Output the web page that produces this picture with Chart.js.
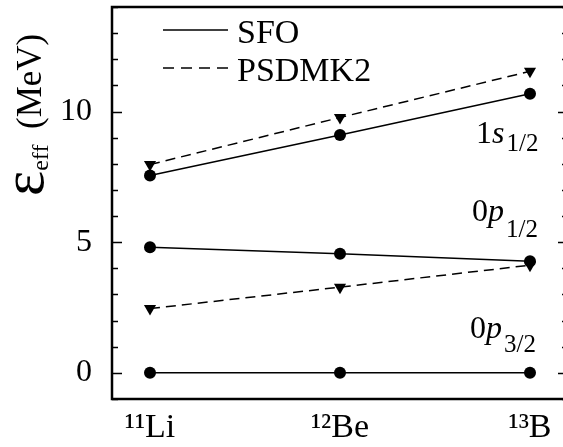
<!DOCTYPE html>
<html>
<head>
<meta charset="utf-8">
<script src="https://cdn.jsdelivr.net/npm/chart.js@4/dist/chart.umd.min.js"></script>
<style>
  html, body { margin: 0; padding: 0; background: #fff; overflow: hidden; }
  #wrap { width: 563px; height: 447px; overflow: hidden; }
  canvas { display: block; }
</style>
</head>
<body>
<div id="wrap"><canvas id="chart" width="575" height="447"></canvas></div>
<script>
// --- data ---
const nuclei = ['¹¹Li', '¹²Be', '¹³B'];
const sfo1s = [7.55, 9.10, 10.68];
const sfo0p12 = [4.81, 4.56, 4.27];
const sfo0p32 = [0, 0, 0];
const psd1s = [7.97, 9.77, 11.54];
const psd0p12 = [2.46, 3.28, 4.12];
const yTicks = [0, 5, 10];
const levelLabels = [['1', 's', '1/2'], ['0', 'p', '1/2'], ['0', 'p', '3/2']];

const FONT = '"Liberation Serif", "Times New Roman", Times, serif';
const pts = arr => arr.map((v, i) => ({ x: i, y: v }));

function sfoSet(vals) {
    return {
        label: 'SFO', data: pts(vals),
        borderColor: '#000', backgroundColor: '#000', borderWidth: 1.5,
        pointStyle: 'circle', pointRadius: 6, pointBorderWidth: 0, pointHoverRadius: 6
    };
}
function psdSet(vals) {
    return {
        label: 'PSDMK2', data: pts(vals),
        borderColor: '#000', backgroundColor: '#000', borderWidth: 1.5, borderDash: [10, 6],
        pointStyle: 'triangle', pointRotation: 180, pointRadius: 7, pointBorderWidth: 0, pointHoverRadius: 7
    };
}

// frame with inward ticks on left and right
const framePlugin = {
    id: 'frame',
    afterDraw(chart) {
        const { ctx, chartArea: a, scales: { y } } = chart;
        ctx.save();
        ctx.strokeStyle = '#000';
        ctx.lineWidth = 1.5;
        for (let v = Math.ceil(y.min); v <= y.max; v++) {
            const py = Math.round(y.getPixelForValue(v)) + 0.5;
            const len = v % 5 === 0 ? 10 : 6;
            ctx.beginPath();
            ctx.moveTo(a.left, py); ctx.lineTo(a.left + len, py);
            ctx.moveTo(a.right, py); ctx.lineTo(a.right - len, py);
            ctx.stroke();
        }
        ctx.lineWidth = 2.5;
        ctx.strokeRect(a.left, a.top, a.right - a.left, a.bottom - a.top);
        ctx.restore();
    }
};

// legend drawn inside the plot
const legendPlugin = {
    id: 'innerLegend',
    afterDraw(chart) {
        const { ctx } = chart;
        const seen = [];
        chart.data.datasets.forEach(d => { if (!seen.find(s => s.label === d.label)) seen.push(d); });
        ctx.save();
        ctx.font = '34px ' + FONT;
        ctx.fillStyle = '#000';
        ctx.strokeStyle = '#000';
        ctx.lineWidth = 1.5;
        seen.forEach((d, i) => {
            const ly = 30 + i * 38;
            ctx.setLineDash(d.borderDash ? [11, 7] : []);
            ctx.beginPath();
            ctx.moveTo(163, ly); ctx.lineTo(228, ly);
            ctx.stroke();
            ctx.fillText(d.label, 237, ly + 13);
        });
        ctx.restore();
    }
};

// level names and y-axis title
const textPlugin = {
    id: 'texts',
    afterDraw(chart) {
        const { ctx } = chart;
        ctx.save();
        ctx.fillStyle = '#000';
        const spots = [[476, 143, 8], [472, 221, 16], [470, 338, 14]];
        levelLabels.forEach((lab, i) => {
            let [x, by, sub] = spots[i];
            ctx.font = '32px ' + FONT;
            ctx.fillText(lab[0], x, by);
            x += ctx.measureText(lab[0]).width;
            ctx.font = 'italic 32px ' + FONT;
            ctx.fillText(lab[1], x, by);
            x += ctx.measureText(lab[1]).width + 2;
            ctx.font = '25px ' + FONT;
            ctx.fillText(lab[2], x, by + sub);
        });

        ctx.translate(43, 196);
        ctx.rotate(-Math.PI / 2);
        ctx.font = '60px ' + FONT;
        ctx.fillText('ε', 0, 0);
        const w = ctx.measureText('ε').width;
        ctx.font = '24px ' + FONT;
        ctx.fillText('eff', w, 5);
        ctx.font = '35px ' + FONT;
        ctx.fillText('(MeV)', 67, -2);
        ctx.restore();
    }
};

function draw() {
    new Chart(document.getElementById('chart'), {
        type: 'line',
        data: {
            datasets: [
                sfoSet(sfo1s), sfoSet(sfo0p12), sfoSet(sfo0p32),
                psdSet(psd1s), psdSet(psd0p12)
            ]
        },
        options: {
            responsive: false,
            devicePixelRatio: 1,
            animation: false,
            layout: { padding: { left: 0, right: 5, top: 3, bottom: 0 } },
            plugins: { legend: { display: false }, tooltip: { enabled: false } },
            scales: {
                x: {
                    type: 'linear', min: -0.2, max: 2.2,
                    grid: { display: false, drawTicks: false },
                    border: { display: false },
                    afterBuildTicks: s => { s.ticks = nuclei.map((_, i) => ({ value: i })); },
                    afterFit: s => { s.height = 48; s.paddingLeft = 0; s.paddingRight = 0; },
                    ticks: {
                        color: '#000', padding: 9, maxRotation: 0,
                        font: { family: FONT, size: 34 },
                        callback: v => nuclei[v]
                    }
                },
                y: {
                    min: -1, max: 14,
                    grid: { display: false, drawTicks: false },
                    border: { display: false },
                    afterBuildTicks: s => { s.ticks = yTicks.map(v => ({ value: v })); },
                    afterFit: s => { s.width = 112; s.paddingTop = 0; s.paddingBottom = 0; },
                    ticks: {
                        color: '#000', padding: 20,
                        font: { family: FONT, size: 32 }
                    }
                }
            }
        },
        plugins: [framePlugin, legendPlugin, textPlugin]
    });
}

document.fonts.load('34px "Liberation Serif"').then(draw, draw);
</script>
</body>
</html>
